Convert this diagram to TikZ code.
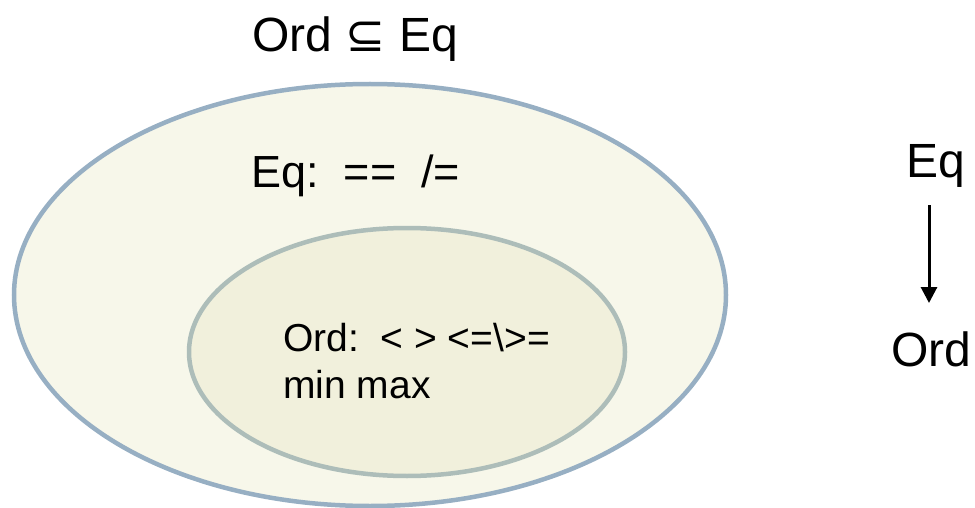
\documentclass[tikz,border=0pt]{standalone}
\usepackage{fontspec}
\setmainfont{Liberation Sans}
\newfontfamily\symfont{DejaVu Sans}
\usetikzlibrary{arrows.meta}
\definecolor{outerfill}{HTML}{F7F7EA}
\definecolor{outerline}{HTML}{97AFC3}
\definecolor{innerfill}{HTML}{F1F0DC}
\definecolor{innerline}{HTML}{ADBDB9}
\tikzset{
  lbl/.style={inner sep=0pt, font=\fontsize{48}{54}\selectfont, anchor=base west},
  innerlbl/.style={inner sep=0pt, font=\fontsize{39}{47}\selectfont, anchor=base west},
  blob/.style={line width=4.5pt},
}
\begin{document}
\begin{tikzpicture}[x=1pt,y=-1pt]
\useasboundingbox (0,0) rectangle (975,508);
\draw[blob, draw=outerline, fill=outerfill] (370,295) ellipse [x radius=356, y radius=211];
\draw[blob, draw=innerline, fill=innerfill] (407,352) ellipse [x radius=218, y radius=124];
\node[lbl] (title) at (252,52) {Ord {\symfont⊆} Eq};
\node[lbl, font=\fontsize{45}{50}\selectfont] (eqops) at (251,188) {Eq:\ \ ==\ \ /=};
\node[innerlbl] (ordops) at (283,351) {Ord:\ \ < > <=\textbackslash>=};
\node[innerlbl] (minmax) at (283,398) {min max};
\node[lbl] (eq) at (906,178) {Eq};
\node[lbl] (ord) at (891,366) {Ord};
\coordinate (as) at (929,205);
\coordinate (ae) at (929,303);
\draw[line width=3pt, -{Triangle[length=16pt,width=16pt]}] (as) -- (ae);
\end{tikzpicture}
\end{document}
